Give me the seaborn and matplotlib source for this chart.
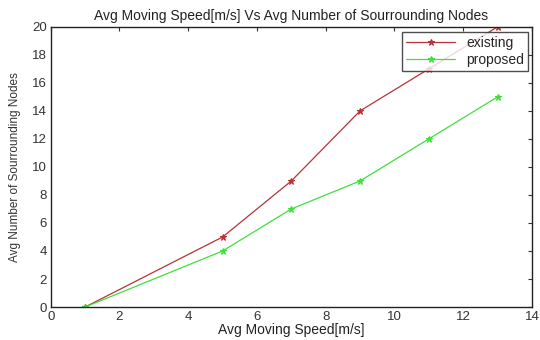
import matplotlib
matplotlib.use("Agg")
import matplotlib.pyplot as plt
import seaborn as sns
import pandas as pd

speed = [1, 5, 7, 9, 11, 13]
existing = [0, 5, 9, 14, 17, 20]
proposed = [0, 4, 7, 9, 12, 15]
x_ticks = [0, 2, 4, 6, 8, 10, 12, 14]
y_ticks = [0, 2, 4, 6, 8, 10, 12, 14, 16, 18, 20]

df = pd.DataFrame({
    "speed": speed * 2,
    "nodes": existing + proposed,
    "series": ["existing"] * len(speed) + ["proposed"] * len(speed),
})

sns.set_theme(style="white")
plt.rcParams["font.family"] = ["Liberation Sans", "DejaVu Sans"]

fig = plt.figure(figsize=(5.4, 3.4), dpi=100)
ax = fig.add_axes([0.094, 0.097, 0.891, 0.824])

sns.lineplot(data=df, x="speed", y="nodes", hue="series",
             palette={"existing": "#b8323a", "proposed": "#3ee03e"},
             marker="*", markersize=5, markeredgewidth=0.8, linewidth=0.9,
             ax=ax, legend=True)
for ln in ax.lines:
    ln.set_markeredgecolor(ln.get_color())
    ln.set_markerfacecolor(ln.get_color())

ax.set_xlim(0, 14)
ax.set_ylim(0, 20)
ax.set_xticks(x_ticks)
ax.set_yticks(y_ticks)
ax.tick_params(direction="in", length=3, width=0.8, top=True, right=True,
               labelsize=9.5, colors="#333333", pad=3)
for s in ax.spines.values():
    s.set_color("#222222")
    s.set_linewidth(1.0)

ax.set_xlabel("Avg Moving Speed[m/s]", fontsize=10, labelpad=0, color="#222222")
ax.set_ylabel("Avg Number of Sourrounding Nodes", fontsize=8.5, labelpad=8,
              color="#333333", fontstretch="condensed")
ax.set_title("Avg Moving Speed[m/s] Vs Avg Number of Sourrounding Nodes",
             fontsize=10, pad=5, color="#222222")

leg = ax.legend(loc="upper right", fontsize=10, frameon=True, fancybox=False,
                edgecolor="#222222", borderpad=0.3, handlelength=3.5,
                labelspacing=0.2, borderaxespad=0,
                bbox_to_anchor=(0.992, 0.982))
leg.get_frame().set_linewidth(1.0)
for h in leg.legend_handles:
    h.set_markeredgecolor(h.get_color())
    h.set_markerfacecolor(h.get_color())

fig.savefig("out.png", dpi=100)
